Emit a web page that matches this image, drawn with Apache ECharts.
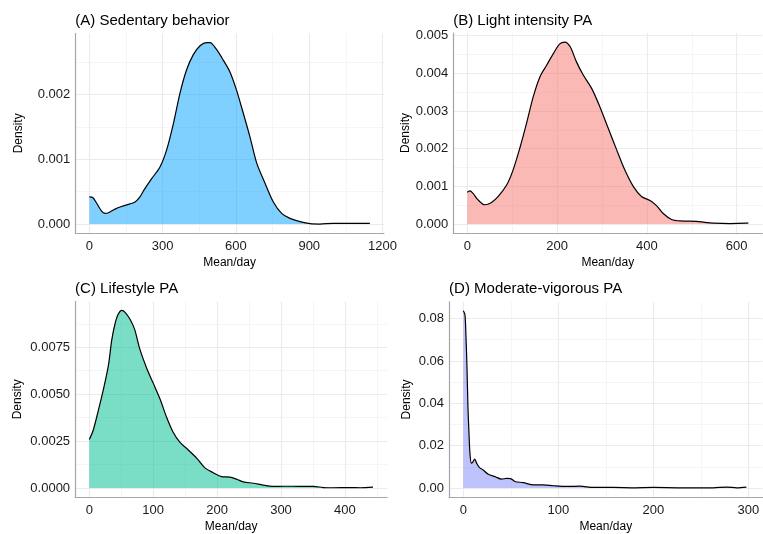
<!DOCTYPE html>
<html>
<head>
<meta charset="utf-8">
<script src="https://cdn.jsdelivr.net/npm/echarts@6/dist/echarts.min.js"></script>
<style>
  html, body { margin: 0; padding: 0; background: #fff; }
  #chart { width: 763px; height: 534px; }
</style>
</head>
<body>
<div id="chart"></div>
<script>
// (A) Sedentary behavior
const sedentaryX = [0, 14, 30, 50, 64, 78, 105, 132, 166, 187, 207, 228, 255, 289, 316, 344, 371, 398, 425, 453, 480, 494, 521, 548, 575, 602, 630, 657, 685, 719, 753, 787, 821, 862, 903, 943, 998, 1148]
const sedentaryDensity = [0.00042, 0.00041, 0.00032, 0.0002, 0.000165, 0.000175, 0.00023, 0.00027, 0.00031, 0.00034, 0.00042, 0.00055, 0.0007, 0.00088, 0.00114, 0.00155, 0.00202, 0.00238, 0.00261, 0.00275, 0.0028, 0.0028, 0.00269, 0.00253, 0.00235, 0.00207, 0.00171, 0.00135, 0.00094, 0.00063, 0.00034, 0.000165, 0.000087, 0.000036, 0.000005, 0, 0.00001, 0.00001]

// (B) Light intensity PA
const lightX = [0, 6, 13, 24, 39, 54, 69, 88, 102, 117, 132, 147, 162, 177, 192, 206, 217, 229, 243, 258, 277, 295, 314, 333, 351, 370, 388, 407, 422, 437, 455, 474, 511, 529, 548, 585, 622, 626]
const lightDensity = [0.00084, 0.00088, 0.00081, 0.00064, 0.00051, 0.00057, 0.00073, 0.00104, 0.00143, 0.00201, 0.00267, 0.00338, 0.00391, 0.00422, 0.00453, 0.00478, 0.00483, 0.00471, 0.00431, 0.00396, 0.0036, 0.00312, 0.00254, 0.00196, 0.00143, 0.00099, 0.00073, 0.00062, 0.00048, 0.00027, 0.00012, 0.00008, 0.00007, 0.00004, 0.00002, 0.00001, 0.00002, 0.00003]

// (C) Lifestyle PA
const lifestyleX = [0, 6, 14, 22, 30, 35, 40, 45, 51, 56, 64, 71, 79, 90, 100, 111, 121, 131, 142, 155, 168, 181, 194, 207, 220, 231, 241, 257, 272, 288, 304, 319, 335, 351, 366, 382, 408, 424, 444]
const lifestyleDensity = [0.00259, 0.00307, 0.00411, 0.00524, 0.00655, 0.00785, 0.00871, 0.00924, 0.00946, 0.00936, 0.00898, 0.00845, 0.00741, 0.00637, 0.00559, 0.00472, 0.00377, 0.00299, 0.00243, 0.00203, 0.0016, 0.00108, 0.00082, 0.00061, 0.00059, 0.00047, 0.00033, 0.00026, 0.00016, 0.00009, 0.0001, 0.0001, 0.00009, 0.00009, 0.00003, 0.00002, 0.00003, 0.00002, 0.00005]

// (D) Moderate-vigorous PA
const mvpaX = [0, 1.75, 2.8, 3.9, 4.9, 6, 7, 8.4, 9.8, 12, 14, 16.8, 21, 26.3, 33.3, 40.4, 45.6, 49.8, 54.4, 63, 74, 84, 95, 109, 123, 137, 158, 179, 200, 228, 263, 277, 288, 298]
const mvpaDensity = [0.0837, 0.0818, 0.0718, 0.0565, 0.038, 0.0257, 0.0165, 0.0118, 0.0122, 0.0137, 0.0118, 0.0098, 0.0085, 0.0065, 0.0054, 0.0042, 0.0046, 0.0045, 0.0031, 0.0026, 0.0015, 0.0015, 0.0011, 0.0008, 0.0009, 0.0003, 0.0003, 0.00015, 0.0003, 0.00015, 0.00015, 0.0005, 0.00015, 0.0005]

const panelTitles = ['(A) Sedentary behavior', '(B) Light intensity PA', '(C) Lifestyle PA', '(D) Moderate-vigorous PA']
const xMajorTicks = [[0, 300, 600, 900, 1200], [0, 200, 400, 600], [0, 100, 200, 300, 400], [0, 100, 200, 300]]
const xMinorTicks = [[150, 450, 750, 1050], [100, 300, 500], [50, 150, 250, 350, 450], [50, 150, 250]]
const yMajorTicks = [[0, 0.001, 0.002], [0, 0.001, 0.002, 0.003, 0.004, 0.005], [0, 0.0025, 0.005, 0.0075], [0, 0.02, 0.04, 0.06, 0.08]]
const yMinorTicks = [[0.0005, 0.0015, 0.0025], [0.0005, 0.0015, 0.0025, 0.0035, 0.0045], [0.00125, 0.00375, 0.00625, 0.00875], [0.01, 0.03, 0.05, 0.07]]
const yDecimals = [3, 3, 4, 2]

const xs = [sedentaryX, lightX, lifestyleX, mvpaX]
const ys = [sedentaryDensity, lightDensity, lifestyleDensity, mvpaDensity]

// layout of the four panels (pixels) and axis ranges (with ggplot-style 5% expansion)
const panels = [
  { left: 75.3, top: 33.5, width: 308.6, height: 199.6, xMin: -57.5, xMax: 1205.5, yMin: -0.00014, yMax: 0.00294, nameGap: 51, fill: 'rgba(0,160,255,0.5)' },
  { left: 453.2, top: 33.0, width: 309.2, height: 200, xMin: -31.3, xMax: 657.3, yMin: -0.00024, yMax: 0.00507, nameGap: 42, fill: 'rgba(245,115,105,0.5)' },
  { left: 75.1, top: 301.6, width: 312.1, height: 199.8, xMin: -22.2, xMax: 466.2, yMin: -0.000473, yMax: 0.00993, nameGap: 51, fill: 'rgba(0,190,145,0.52)' },
  { left: 449.05, top: 301.8, width: 313.5, height: 199.6, xMin: -15, xMax: 315, yMin: -0.0042, yMax: 0.0879, nameGap: 36, fill: 'rgba(125,135,248,0.5)' }
]

const FONT = 'Liberation Sans, Arial, sans-serif'
const grids = [], xAxes = [], yAxes = [], series = [], titles = []

panels.forEach((p, i) => {
  grids.push({ left: p.left, top: p.top, width: p.width, height: p.height })
  titles.push({
    text: panelTitles[i], left: p.left, top: p.top - 20, padding: 0,
    textStyle: { fontFamily: FONT, fontSize: 15, fontWeight: 'normal', color: '#000' }
  })
  // major x axis
  xAxes.push({
    type: 'value', gridIndex: i, min: p.xMin, max: p.xMax,
    name: 'Mean/day', nameLocation: 'middle', nameGap: 24,
    nameTextStyle: { fontFamily: FONT, fontSize: 12, color: '#000' },
    axisLine: { show: true, onZero: false, lineStyle: { color: '#a6a6a6', width: 1.2 } },
    axisTick: { show: false, customValues: xMajorTicks[i] },
    axisLabel: { customValues: xMajorTicks[i], margin: 7, fontFamily: FONT, fontSize: 13, color: '#1a1a1a', formatter: v => String(v) },
    splitLine: { show: true, lineStyle: { color: '#ebebeb', width: 1.1 } }
  })
  // minor x grid lines
  xAxes.push({
    type: 'value', gridIndex: i, min: p.xMin, max: p.xMax,
    axisLine: { show: false }, axisLabel: { show: false },
    axisTick: { show: false, customValues: xMinorTicks[i] },
    splitLine: { show: true, lineStyle: { color: '#f3f3f3', width: 0.8 } }
  })
  yAxes.push({
    type: 'value', gridIndex: i, min: p.yMin, max: p.yMax,
    name: 'Density', nameLocation: 'middle', nameGap: p.nameGap,
    nameTextStyle: { fontFamily: FONT, fontSize: 12, color: '#000' },
    axisLine: { show: true, onZero: false, lineStyle: { color: '#a6a6a6', width: 1.2 } },
    axisTick: { show: false, customValues: yMajorTicks[i] },
    axisLabel: {
      customValues: yMajorTicks[i], margin: 5, fontFamily: FONT, fontSize: 13, color: '#1a1a1a',
      formatter: v => v.toFixed(yDecimals[i])
    },
    splitLine: { show: true, lineStyle: { color: '#ebebeb', width: 1.1 } }
  })
  yAxes.push({
    type: 'value', gridIndex: i, min: p.yMin, max: p.yMax, position: 'left',
    axisLine: { show: false }, axisLabel: { show: false },
    axisTick: { show: false, customValues: yMinorTicks[i] },
    splitLine: { show: true, lineStyle: { color: '#f3f3f3', width: 0.8 } }
  })
  series.push({
    type: 'line', xAxisIndex: 2 * i, yAxisIndex: 2 * i,
    data: xs[i].map((x, k) => [x, ys[i][k]]),
    showSymbol: false, smooth: 0.3, silent: true,
    lineStyle: { color: '#000', width: 1.2 },
    areaStyle: { color: p.fill, opacity: 1 }
  })
})

const chart = echarts.init(document.getElementById('chart'))
chart.setOption({
  animation: false,
  backgroundColor: '#fff',
  title: titles,
  grid: grids,
  xAxis: xAxes,
  yAxis: yAxes,
  series: series
})
</script>
</body>
</html>
